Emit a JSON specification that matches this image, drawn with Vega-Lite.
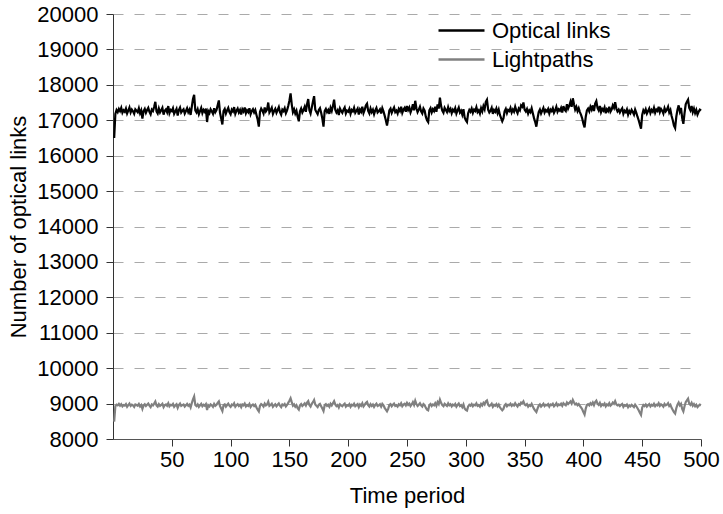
{
"$schema": "https://vega.github.io/schema/vega-lite/v6.json",
"width": 588, "height": 425,
"autosize": "none",
"padding": {"left": 113, "top": 14, "right": 22, "bottom": 75},
"background": "white",
"config": {"font": "Liberation Sans", "view": {"stroke": null}},
"data": {"values": [
{"t":1,"o":16500,"l":8490},{"t":2,"o":17180,"l":8930},{"t":3,"o":17290,"l":8970},{"t":4,"o":17230,"l":8950},{"t":5,"o":17320,"l":8990},{"t":6,"o":17260,"l":8940},{"t":7,"o":17350,"l":8980},{"t":8,"o":17210,"l":8920},{"t":9,"o":17280,"l":8960},{"t":10,"o":17240,"l":8945},
{"t":11,"o":17330,"l":8985},{"t":12,"o":17190,"l":8910},{"t":13,"o":17270,"l":8955},{"t":14,"o":17360,"l":9000},{"t":15,"o":17220,"l":8935},{"t":16,"o":17300,"l":8970},{"t":17,"o":17250,"l":8950},{"t":18,"o":17180,"l":8905},{"t":19,"o":17310,"l":8975},{"t":20,"o":17270,"l":8960},
{"t":21,"o":17230,"l":8940},{"t":22,"o":17340,"l":8990},{"t":23,"o":17200,"l":8920},{"t":24,"o":17280,"l":8960},{"t":25,"o":17050,"l":8850},{"t":26,"o":17260,"l":8950},{"t":27,"o":17320,"l":8980},{"t":28,"o":17210,"l":8930},{"t":29,"o":17290,"l":8965},{"t":30,"o":17350,"l":9000},
{"t":31,"o":17240,"l":8945},{"t":32,"o":17170,"l":8900},{"t":33,"o":17300,"l":8975},{"t":34,"o":17260,"l":8950},{"t":35,"o":17380,"l":9000},{"t":36,"o":17520,"l":9060},{"t":37,"o":17250,"l":8950},{"t":38,"o":17190,"l":8915},{"t":39,"o":17330,"l":8985},{"t":40,"o":17220,"l":8935},
{"t":41,"o":17280,"l":8960},{"t":42,"o":17350,"l":8995},{"t":43,"o":17160,"l":8900},{"t":44,"o":17270,"l":8955},{"t":45,"o":17310,"l":8975},{"t":46,"o":17230,"l":8940},{"t":47,"o":17400,"l":9010},{"t":48,"o":17200,"l":8925},{"t":49,"o":17290,"l":8965},{"t":50,"o":17260,"l":8950},
{"t":51,"o":17340,"l":8990},{"t":52,"o":17180,"l":8910},{"t":53,"o":17250,"l":8950},{"t":54,"o":17320,"l":8980},{"t":55,"o":17130,"l":8880},{"t":56,"o":17290,"l":8960},{"t":57,"o":17360,"l":9000},{"t":58,"o":17220,"l":8935},{"t":59,"o":17270,"l":8955},{"t":60,"o":17310,"l":8975},
{"t":61,"o":17190,"l":8915},{"t":62,"o":17260,"l":8950},{"t":63,"o":17340,"l":8990},{"t":64,"o":17230,"l":8940},{"t":65,"o":17300,"l":8970},{"t":66,"o":17150,"l":8890},{"t":67,"o":17380,"l":9010},{"t":68,"o":17600,"l":9120},{"t":69,"o":17720,"l":9200},{"t":70,"o":17280,"l":8960},
{"t":71,"o":17220,"l":8930},{"t":72,"o":17310,"l":8975},{"t":73,"o":17170,"l":8905},{"t":74,"o":17260,"l":8950},{"t":75,"o":17350,"l":8995},{"t":76,"o":17200,"l":8925},{"t":77,"o":17290,"l":8965},{"t":78,"o":17240,"l":8940},{"t":79,"o":17330,"l":8985},{"t":80,"o":16950,"l":8820},
{"t":81,"o":17260,"l":8955},{"t":82,"o":17200,"l":8920},{"t":83,"o":17310,"l":8975},{"t":84,"o":17250,"l":8950},{"t":85,"o":17180,"l":8910},{"t":86,"o":17340,"l":8990},{"t":87,"o":17230,"l":8935},{"t":88,"o":17290,"l":8965},{"t":89,"o":17420,"l":9020},{"t":90,"o":17560,"l":9060},
{"t":91,"o":17210,"l":8930},{"t":92,"o":17050,"l":8860},{"t":93,"o":16880,"l":8790},{"t":94,"o":17260,"l":8955},{"t":95,"o":17320,"l":8980},{"t":96,"o":17190,"l":8915},{"t":97,"o":17280,"l":8960},{"t":98,"o":17350,"l":9000},{"t":99,"o":17230,"l":8940},{"t":100,"o":17170,"l":8905},
{"t":101,"o":17300,"l":8970},{"t":102,"o":17250,"l":8950},{"t":103,"o":17370,"l":9005},{"t":104,"o":17180,"l":8910},{"t":105,"o":17270,"l":8955},{"t":106,"o":17330,"l":8985},{"t":107,"o":17220,"l":8930},{"t":108,"o":17290,"l":8965},{"t":109,"o":17160,"l":8900},{"t":110,"o":17310,"l":8975},
{"t":111,"o":17250,"l":8950},{"t":112,"o":17360,"l":9000},{"t":113,"o":17200,"l":8920},{"t":114,"o":17280,"l":8960},{"t":115,"o":17230,"l":8935},{"t":116,"o":17340,"l":8990},{"t":117,"o":17170,"l":8905},{"t":118,"o":17260,"l":8950},{"t":119,"o":17310,"l":8975},{"t":120,"o":17220,"l":8930},
{"t":121,"o":17290,"l":8965},{"t":122,"o":17150,"l":8890},{"t":123,"o":17020,"l":8830},{"t":124,"o":16820,"l":8780},{"t":125,"o":17240,"l":8940},{"t":126,"o":17330,"l":8985},{"t":127,"o":17270,"l":8960},{"t":128,"o":17190,"l":8915},{"t":129,"o":17360,"l":9000},{"t":130,"o":17250,"l":8950},
{"t":131,"o":17300,"l":8975},{"t":132,"o":17500,"l":9050},{"t":133,"o":17220,"l":8935},{"t":134,"o":17280,"l":8960},{"t":135,"o":17350,"l":8995},{"t":136,"o":17180,"l":8910},{"t":137,"o":17260,"l":8950},{"t":138,"o":17320,"l":8980},{"t":139,"o":17210,"l":8925},{"t":140,"o":17290,"l":8965},
{"t":141,"o":17370,"l":9005},{"t":142,"o":17230,"l":8940},{"t":143,"o":17160,"l":8900},{"t":144,"o":17300,"l":8975},{"t":145,"o":17260,"l":8950},{"t":146,"o":17340,"l":8990},{"t":147,"o":17200,"l":8920},{"t":148,"o":17280,"l":8960},{"t":149,"o":17400,"l":9020},{"t":150,"o":17550,"l":9080},
{"t":151,"o":17760,"l":9150},{"t":152,"o":17450,"l":9040},{"t":153,"o":17230,"l":8940},{"t":154,"o":17310,"l":8975},{"t":155,"o":17190,"l":8910},{"t":156,"o":17270,"l":8955},{"t":157,"o":17100,"l":8870},{"t":158,"o":16970,"l":8830},{"t":159,"o":17250,"l":8950},{"t":160,"o":17330,"l":8985},
{"t":161,"o":17220,"l":8930},{"t":162,"o":17290,"l":8965},{"t":163,"o":17380,"l":9005},{"t":164,"o":17240,"l":8945},{"t":165,"o":17450,"l":9030},{"t":166,"o":17600,"l":9070},{"t":167,"o":17280,"l":8960},{"t":168,"o":17190,"l":8915},{"t":169,"o":17350,"l":8995},{"t":170,"o":17520,"l":9040},
{"t":171,"o":17680,"l":9100},{"t":172,"o":17300,"l":8975},{"t":173,"o":17230,"l":8935},{"t":174,"o":17170,"l":8900},{"t":175,"o":17290,"l":8965},{"t":176,"o":17340,"l":8990},{"t":177,"o":17210,"l":8925},{"t":178,"o":17050,"l":8860},{"t":179,"o":16820,"l":8790},{"t":180,"o":17260,"l":8955},
{"t":181,"o":17320,"l":8985},{"t":182,"o":17230,"l":8935},{"t":183,"o":17290,"l":8965},{"t":184,"o":17180,"l":8910},{"t":185,"o":17350,"l":8995},{"t":186,"o":17260,"l":8950},{"t":187,"o":17400,"l":9010},{"t":188,"o":17580,"l":9070},{"t":189,"o":17300,"l":8975},{"t":190,"o":17220,"l":8930},
{"t":191,"o":17280,"l":8960},{"t":192,"o":17150,"l":8890},{"t":193,"o":17330,"l":8980},{"t":194,"o":17260,"l":8950},{"t":195,"o":17210,"l":8925},{"t":196,"o":17300,"l":8970},{"t":197,"o":17360,"l":9000},{"t":198,"o":17190,"l":8915},{"t":199,"o":17270,"l":8955},{"t":200,"o":17240,"l":8940},
{"t":201,"o":17320,"l":8985},{"t":202,"o":17180,"l":8910},{"t":203,"o":17290,"l":8965},{"t":204,"o":17250,"l":8945},{"t":205,"o":17350,"l":8995},{"t":206,"o":17210,"l":8925},{"t":207,"o":17270,"l":8955},{"t":208,"o":17330,"l":8985},{"t":209,"o":17160,"l":8900},{"t":210,"o":17300,"l":8975},
{"t":211,"o":17240,"l":8940},{"t":212,"o":17380,"l":9010},{"t":213,"o":17200,"l":8920},{"t":214,"o":17290,"l":8965},{"t":215,"o":17420,"l":9020},{"t":216,"o":17470,"l":9050},{"t":217,"o":17260,"l":8955},{"t":218,"o":17190,"l":8915},{"t":219,"o":17330,"l":8985},{"t":220,"o":17230,"l":8935},
{"t":221,"o":17300,"l":8975},{"t":222,"o":17170,"l":8905},{"t":223,"o":17280,"l":8960},{"t":224,"o":17350,"l":8995},{"t":225,"o":17220,"l":8930},{"t":226,"o":17260,"l":8950},{"t":227,"o":17310,"l":8980},{"t":228,"o":17190,"l":8915},{"t":229,"o":17340,"l":8990},{"t":230,"o":17250,"l":8950},
{"t":231,"o":17130,"l":8880},{"t":232,"o":17000,"l":8830},{"t":233,"o":16850,"l":8780},{"t":234,"o":17050,"l":8850},{"t":235,"o":17280,"l":8960},{"t":236,"o":17330,"l":8985},{"t":237,"o":17210,"l":8925},{"t":238,"o":17290,"l":8965},{"t":239,"o":17360,"l":9000},{"t":240,"o":17230,"l":8935},
{"t":241,"o":17270,"l":8955},{"t":242,"o":17190,"l":8915},{"t":243,"o":17320,"l":8980},{"t":244,"o":17260,"l":8950},{"t":245,"o":17380,"l":9010},{"t":246,"o":17210,"l":8925},{"t":247,"o":17300,"l":8970},{"t":248,"o":17350,"l":8995},{"t":249,"o":17240,"l":8945},{"t":250,"o":17400,"l":9020},
{"t":251,"o":17290,"l":8965},{"t":252,"o":17360,"l":9000},{"t":253,"o":17220,"l":8930},{"t":254,"o":17310,"l":8975},{"t":255,"o":17450,"l":9040},{"t":256,"o":17280,"l":8960},{"t":257,"o":17550,"l":9080},{"t":258,"o":17340,"l":8985},{"t":259,"o":17230,"l":8935},{"t":260,"o":17300,"l":8970},
{"t":261,"o":17380,"l":9010},{"t":262,"o":17250,"l":8950},{"t":263,"o":17190,"l":8915},{"t":264,"o":17330,"l":8985},{"t":265,"o":17270,"l":8955},{"t":266,"o":17100,"l":8880},{"t":267,"o":17000,"l":8830},{"t":268,"o":16950,"l":8810},{"t":269,"o":17280,"l":8960},{"t":270,"o":17340,"l":8990},
{"t":271,"o":17220,"l":8930},{"t":272,"o":17310,"l":8975},{"t":273,"o":17260,"l":8950},{"t":274,"o":17380,"l":9010},{"t":275,"o":17240,"l":8940},{"t":276,"o":17450,"l":9040},{"t":277,"o":17330,"l":8985},{"t":278,"o":17640,"l":9110},{"t":279,"o":17400,"l":9020},{"t":280,"o":17270,"l":8955},
{"t":281,"o":17210,"l":8925},{"t":282,"o":17350,"l":8995},{"t":283,"o":17290,"l":8965},{"t":284,"o":17230,"l":8935},{"t":285,"o":17370,"l":9005},{"t":286,"o":17260,"l":8950},{"t":287,"o":17320,"l":8980},{"t":288,"o":17200,"l":8920},{"t":289,"o":17300,"l":8970},{"t":290,"o":17250,"l":8945},
{"t":291,"o":17340,"l":8990},{"t":292,"o":17190,"l":8910},{"t":293,"o":17280,"l":8960},{"t":294,"o":17360,"l":9000},{"t":295,"o":17220,"l":8930},{"t":296,"o":17270,"l":8955},{"t":297,"o":17160,"l":8900},{"t":298,"o":17310,"l":8975},{"t":299,"o":17080,"l":8860},{"t":300,"o":17000,"l":8820},
{"t":301,"o":16950,"l":8800},{"t":302,"o":17200,"l":8920},{"t":303,"o":17290,"l":8965},{"t":304,"o":17240,"l":8940},{"t":305,"o":17330,"l":8985},{"t":306,"o":17210,"l":8925},{"t":307,"o":17300,"l":8970},{"t":308,"o":17260,"l":8950},{"t":309,"o":17370,"l":9005},{"t":310,"o":17230,"l":8935},
{"t":311,"o":17280,"l":8960},{"t":312,"o":17190,"l":8915},{"t":313,"o":17340,"l":8990},{"t":314,"o":17250,"l":8950},{"t":315,"o":17400,"l":9020},{"t":316,"o":17310,"l":8975},{"t":317,"o":17520,"l":9060},{"t":318,"o":17580,"l":9090},{"t":319,"o":17300,"l":8970},{"t":320,"o":17220,"l":8930},
{"t":321,"o":17270,"l":8955},{"t":322,"o":17350,"l":8995},{"t":323,"o":17180,"l":8910},{"t":324,"o":17290,"l":8965},{"t":325,"o":17240,"l":8940},{"t":326,"o":17330,"l":8985},{"t":327,"o":17200,"l":8920},{"t":328,"o":17300,"l":8970},{"t":329,"o":17150,"l":8895},{"t":330,"o":17060,"l":8850},
{"t":331,"o":16970,"l":8810},{"t":332,"o":17050,"l":8850},{"t":333,"o":17250,"l":8950},{"t":334,"o":17320,"l":8985},{"t":335,"o":17200,"l":8925},{"t":336,"o":17290,"l":8965},{"t":337,"o":17260,"l":8955},{"t":338,"o":17350,"l":8995},{"t":339,"o":17220,"l":8935},{"t":340,"o":17300,"l":8975},
{"t":341,"o":17240,"l":8945},{"t":342,"o":17380,"l":9010},{"t":343,"o":17270,"l":8960},{"t":344,"o":17200,"l":8920},{"t":345,"o":17330,"l":8985},{"t":346,"o":17280,"l":8960},{"t":347,"o":17420,"l":9030},{"t":348,"o":17380,"l":9010},{"t":349,"o":17500,"l":9060},{"t":350,"o":17300,"l":8975},
{"t":351,"o":17250,"l":8950},{"t":352,"o":17320,"l":8985},{"t":353,"o":17190,"l":8915},{"t":354,"o":17280,"l":8960},{"t":355,"o":17230,"l":8935},{"t":356,"o":17340,"l":8990},{"t":357,"o":17200,"l":8920},{"t":358,"o":17060,"l":8850},{"t":359,"o":16950,"l":8800},{"t":360,"o":16820,"l":8760},
{"t":361,"o":17050,"l":8860},{"t":362,"o":17230,"l":8940},{"t":363,"o":17300,"l":8975},{"t":364,"o":17190,"l":8915},{"t":365,"o":17270,"l":8955},{"t":366,"o":17350,"l":8995},{"t":367,"o":17220,"l":8930},{"t":368,"o":17290,"l":8965},{"t":369,"o":17250,"l":8950},{"t":370,"o":17320,"l":8985},
{"t":371,"o":17190,"l":8915},{"t":372,"o":17300,"l":8975},{"t":373,"o":17260,"l":8955},{"t":374,"o":17340,"l":8995},{"t":375,"o":17210,"l":8925},{"t":376,"o":17280,"l":8960},{"t":377,"o":17380,"l":9010},{"t":378,"o":17240,"l":8940},{"t":379,"o":17310,"l":8975},{"t":380,"o":17270,"l":8955},
{"t":381,"o":17350,"l":8995},{"t":382,"o":17220,"l":8935},{"t":383,"o":17400,"l":9010},{"t":384,"o":17300,"l":8975},{"t":385,"o":17260,"l":8950},{"t":386,"o":17450,"l":9030},{"t":387,"o":17330,"l":8985},{"t":388,"o":17410,"l":9020},{"t":389,"o":17520,"l":9060},{"t":390,"o":17380,"l":9000},
{"t":391,"o":17620,"l":9100},{"t":392,"o":17450,"l":9030},{"t":393,"o":17300,"l":8975},{"t":394,"o":17380,"l":9000},{"t":395,"o":17260,"l":8955},{"t":396,"o":17340,"l":8990},{"t":397,"o":17230,"l":8935},{"t":398,"o":17150,"l":8890},{"t":399,"o":17050,"l":8840},{"t":400,"o":16900,"l":8760},
{"t":401,"o":16800,"l":8690},{"t":402,"o":17100,"l":8860},{"t":403,"o":17280,"l":8960},{"t":404,"o":17330,"l":8985},{"t":405,"o":17250,"l":8950},{"t":406,"o":17380,"l":9010},{"t":407,"o":17300,"l":8970},{"t":408,"o":17420,"l":9030},{"t":409,"o":17260,"l":8955},{"t":410,"o":17470,"l":9040},
{"t":411,"o":17540,"l":9080},{"t":412,"o":17350,"l":8995},{"t":413,"o":17280,"l":8960},{"t":414,"o":17400,"l":9020},{"t":415,"o":17230,"l":8935},{"t":416,"o":17320,"l":8980},{"t":417,"o":17270,"l":8955},{"t":418,"o":17360,"l":9000},{"t":419,"o":17200,"l":8920},{"t":420,"o":17310,"l":8975},
{"t":421,"o":17260,"l":8950},{"t":422,"o":17380,"l":9010},{"t":423,"o":17240,"l":8940},{"t":424,"o":17300,"l":8970},{"t":425,"o":17420,"l":9030},{"t":426,"o":17350,"l":8995},{"t":427,"o":17510,"l":9070},{"t":428,"o":17330,"l":8980},{"t":429,"o":17250,"l":8950},{"t":430,"o":17300,"l":8970},
{"t":431,"o":17220,"l":8930},{"t":432,"o":17290,"l":8965},{"t":433,"o":17340,"l":8990},{"t":434,"o":17180,"l":8905},{"t":435,"o":17270,"l":8955},{"t":436,"o":17230,"l":8935},{"t":437,"o":17310,"l":8975},{"t":438,"o":17160,"l":8900},{"t":439,"o":17260,"l":8950},{"t":440,"o":17200,"l":8920},
{"t":441,"o":17290,"l":8965},{"t":442,"o":17230,"l":8935},{"t":443,"o":17160,"l":8900},{"t":444,"o":17300,"l":8970},{"t":445,"o":17210,"l":8925},{"t":446,"o":17100,"l":8870},{"t":447,"o":17000,"l":8810},{"t":448,"o":16880,"l":8740},{"t":449,"o":16760,"l":8680},{"t":450,"o":17150,"l":8890},
{"t":451,"o":17280,"l":8960},{"t":452,"o":17220,"l":8930},{"t":453,"o":17310,"l":8975},{"t":454,"o":17190,"l":8915},{"t":455,"o":17260,"l":8950},{"t":456,"o":17330,"l":8985},{"t":457,"o":17200,"l":8920},{"t":458,"o":17290,"l":8965},{"t":459,"o":17240,"l":8940},{"t":460,"o":17350,"l":8995},
{"t":461,"o":17210,"l":8925},{"t":462,"o":17300,"l":8970},{"t":463,"o":17260,"l":8950},{"t":464,"o":17380,"l":9010},{"t":465,"o":17230,"l":8935},{"t":466,"o":17320,"l":8980},{"t":467,"o":17270,"l":8955},{"t":468,"o":17190,"l":8915},{"t":469,"o":17340,"l":8990},{"t":470,"o":17250,"l":8950},
{"t":471,"o":17300,"l":8970},{"t":472,"o":17380,"l":9010},{"t":473,"o":17220,"l":8930},{"t":474,"o":17290,"l":8965},{"t":475,"o":17120,"l":8880},{"t":476,"o":17000,"l":8820},{"t":477,"o":16850,"l":8760},{"t":478,"o":16780,"l":8720},{"t":479,"o":17100,"l":8870},{"t":480,"o":17300,"l":8970},
{"t":481,"o":17420,"l":9030},{"t":482,"o":17250,"l":8950},{"t":483,"o":17350,"l":8995},{"t":484,"o":17060,"l":8850},{"t":485,"o":16900,"l":8780},{"t":486,"o":17200,"l":8925},{"t":487,"o":17450,"l":9040},{"t":488,"o":17520,"l":9090},{"t":489,"o":17580,"l":9140},{"t":490,"o":17350,"l":8995},
{"t":491,"o":17280,"l":8960},{"t":492,"o":17400,"l":9020},{"t":493,"o":17230,"l":8940},{"t":494,"o":17330,"l":8985},{"t":495,"o":17200,"l":8925},{"t":496,"o":17290,"l":8965},{"t":497,"o":17160,"l":8900},{"t":498,"o":17240,"l":8940},{"t":499,"o":17300,"l":8970},{"t":500,"o":17270,"l":8955}
]},
"transform": [{"fold": ["o", "l"], "as": ["s", "v"]}],
"mark": {"type": "line", "strokeWidth": 2.2, "interpolate": "linear"},
"encoding": {
  "x": {"field": "t", "type": "quantitative",
    "scale": {"domain": [0, 500], "nice": false, "zero": false},
    "axis": {"title": "Time period", "values": [50,100,150,200,250,300,350,400,450,500],
      "grid": false, "tickSize": 7, "tickColor": "#333", "domainColor": "#555", "labelFlush": false,
      "labelFontSize": 22, "labelColor": "#000", "labelPadding": 3,
      "titleFontSize": 22, "titleFontWeight": "normal", "titleColor": "#000", "titlePadding": 15}},
  "y": {"field": "v", "type": "quantitative",
    "scale": {"domain": [8000, 20000], "nice": false, "zero": false},
    "axis": {"title": "Number of optical links",
      "values": [8000,9000,10000,11000,12000,13000,14000,15000,16000,17000,18000,19000,20000],
      "format": "d", "grid": true, "gridColor": "#aaaaaa", "gridDash": [10, 11], "gridWidth": 1, "labelFlush": false,
      "tickSize": 7, "tickColor": "#333", "domainColor": "#333",
      "labelFontSize": 22, "labelColor": "#000", "labelPadding": 8,
      "titleFontSize": 22, "titleFontWeight": "normal", "titleColor": "#000", "titlePadding": 6}},
  "color": {"field": "s", "type": "nominal",
    "scale": {"domain": ["o", "l"], "range": ["#000000", "#808080"]},
    "legend": {"title": null, "orient": "none", "legendX": 337, "legendY": 5,
      "symbolType": "M-2.3,0H2.3", "symbolSize": 400, "symbolStrokeWidth": 2.5,
      "labelFontSize": 22, "labelColor": "#000", "labelOffset": 19, "rowPadding": 6,
      "labelExpr": "datum.label == 'o' ? 'Optical links' : 'Lightpaths'"}},
  "order": {"field": "t", "type": "quantitative"}
}
}
